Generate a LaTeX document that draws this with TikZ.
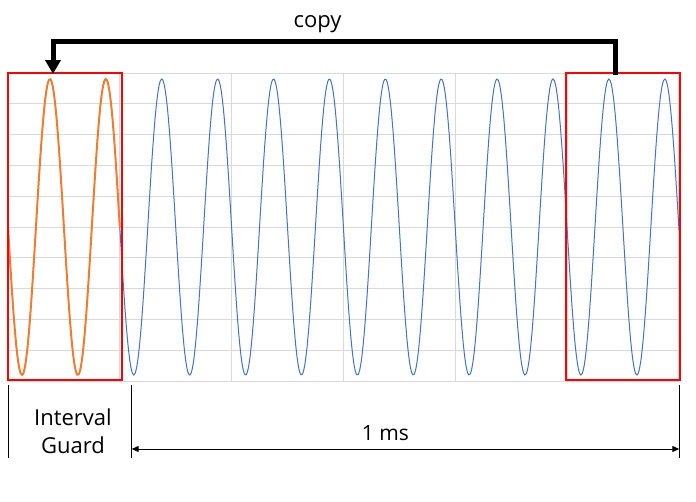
\documentclass[tikz,border=0pt]{standalone}
\usepackage{fontspec}
\setmainfont{Open Sans}
\usetikzlibrary{arrows.meta,positioning}
\definecolor{guardorange}{RGB}{237,125,49}
\definecolor{symblue}{RGB}{68,114,196}
\definecolor{gridgray}{RGB}{217,217,217}

\begin{document}
\begin{tikzpicture}[x=1pt, y=-1pt,
  gbox/.style={draw=red, line width=2pt, minimum width=114pt, minimum height=307pt, inner sep=0pt},
  gridline/.style={gridgray, line width=1pt},
  lbl/.style={font=\fontsize{22}{28}\selectfont, inner sep=0pt},
]
\useasboundingbox (0,0) rectangle (696,501);
% chart grid
\foreach \k in {0,...,10} \draw[gridline] (8,73+30.8*\k) -- (679,73+30.8*\k);
\foreach \k in {0,...,6} \draw[gridline] (8+111.8*\k,73) -- (8+111.8*\k,381);

% guard part and symbol part of the signal (period 55.9)
\draw[guardorange, line width=2pt] plot[smooth, samples=80, domain=8:119.8]
  (\x, {227+148*sin(6.4401*(\x-8))});
\draw[symblue, line width=1pt] plot[smooth, samples=400, domain=119.8:679]
  (\x, {227+148*sin(6.4401*(\x-8))});

\node[gbox] (gi) at (65,226.5) {};
\node[gbox] (cp) at (623,226.5) {};

% copy bracket
\coordinate (bend) at (53,41);
\draw[line width=5pt, -{Triangle[width=15pt,length=14pt]}]
  ([xshift=-8pt,yshift=-3pt]cp.north) |- (bend) -- ([xshift=-12pt,yshift=-2pt]gi.north);
\node[lbl, anchor=base] (cplbl) at (317.5,27) {copy};

% time marks
\coordinate (gstop) at (8,385);     \coordinate (gsbot) at (8,458);
\coordinate (getop) at (131.7,385); \coordinate (gebot) at (131.7,458);
\coordinate (setop) at (679.3,385); \coordinate (sebot) at (679.3,458);
\coordinate (gemid) at (131.7,449); \coordinate (semid) at (679.3,449);
\draw[line width=1pt] (gstop) -- (gsbot);
\draw[line width=1pt] (getop) -- (gebot);
\draw[line width=1pt] (setop) -- (sebot);
\draw[line width=1pt, {Triangle[length=7pt,width=6pt]}-{Triangle[length=7pt,width=6pt]}]
  (gemid) -- (semid);
\node[lbl, align=center, anchor=north] (iglbl) at (73,409) {Interval\\Guard};
\node[lbl, font=\fontsize{21}{25}\selectfont, anchor=base] (mslbl) at (385.5,440) {1 ms};
\end{tikzpicture}
\end{document}
